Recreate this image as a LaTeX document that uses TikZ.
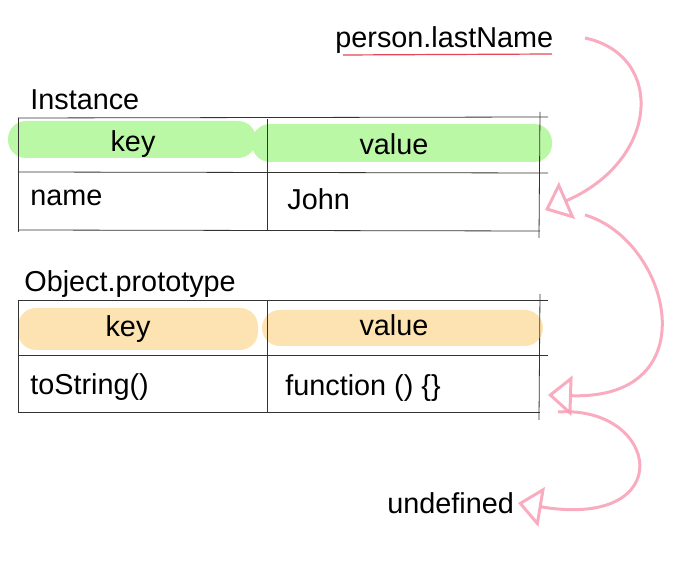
\documentclass[tikz,border=0pt]{standalone}
\usepackage{fontspec}
\setmainfont{Liberation Sans}
\usetikzlibrary{arrows.meta}
\definecolor{hlgreen}{RGB}{186,248,166}
\definecolor{hlorange}{RGB}{253,227,178}
\definecolor{lookpink}{RGB}{248,158,180}
\definecolor{underred}{RGB}{228,70,90}
\tikzset{
  txt/.style={inner sep=0pt,anchor=base west,font=\fontsize{14.4}{16}\selectfont},
  head/.style={inner sep=0pt,anchor=base,font=\fontsize{14.4}{16}\selectfont},
  hl/.style={rounded corners=9pt},
  grid/.style={line width=0.4pt,black!80},
  lookup/.style={lookpink,line width=1.5pt,opacity=.85,
    -{Triangle[open,length=12pt,width=20pt,line width=1.5pt]}}
}

\begin{document}
\begin{tikzpicture}[x=0.5pt,y=-0.5pt]
  \useasboundingbox (0,0) rectangle (682,571);
  % highlights
  \fill[hl,hlgreen] (8,121) rectangle (256,158);
  \fill[hl,hlgreen] (252,124) rectangle (552,162);
  \fill[hl,hlorange] (18,308) rectangle (258,350);
  \fill[hl,hlorange] (262,310) rectangle (543,346);
  % instance table
  \draw[grid] (18,118) -- (548,117);
  \draw[grid] (18,172) -- (548,173);
  \draw[grid] (18,230) -- (540,231);
  \draw[grid] (18,118) -- (18,232);
  \draw[grid] (267,119) -- (267,231);
  \draw[grid] (540,112) -- (539,238);
  % prototype table
  \draw[grid] (18,300) -- (548,300);
  \draw[grid] (18,355) -- (548,355);
  \draw[grid] (18,412) -- (540,412);
  \draw[grid] (18,300) -- (18,413);
  \draw[grid] (267,300) -- (267,412);
  \draw[grid] (540,294) -- (539,420);
  % texts
  \node[txt] (query) at (335,48) {person.lastName};
  \draw[underred,line width=0.6pt] (343,55) -- (552,54);
  \node[txt] (inst) at (30,110) {Instance};
  \node[head] (ikey) at (133,152) {key};
  \node[head] (ival) at (394,155) {value};
  \node[txt] (iname) at (30,206) {name};
  \node[txt] (ijohn) at (287,210) {John};
  \node[txt] (proto) at (24,292) {Object.prototype};
  \node[head] (pkey) at (128,337) {key};
  \node[head] (pval) at (394,336) {value};
  \node[txt] (pstr) at (30,395) {toString()};
  \node[txt] (pfun) at (285,396) {function () \{\}};
  \node[txt] (undef) at (387,514) {undefined};
  % lookup chain
  \coordinate (s1) at (585,38);
  \coordinate (e1) at (545,210);
  \coordinate (s2) at (585,215);
  \coordinate (e2) at (548,395);
  \coordinate (s3) at (558,412);
  \coordinate (e3) at (518,503);
  \draw[lookup] (s1) .. controls (665,55) and (660,160) .. (e1);
  \draw[lookup] (s2) .. controls (670,240) and (710,400) .. (e2);
  \draw[lookup] (s3) .. controls (660,405) and (680,530) .. (e3);
\end{tikzpicture}
\end{document}
